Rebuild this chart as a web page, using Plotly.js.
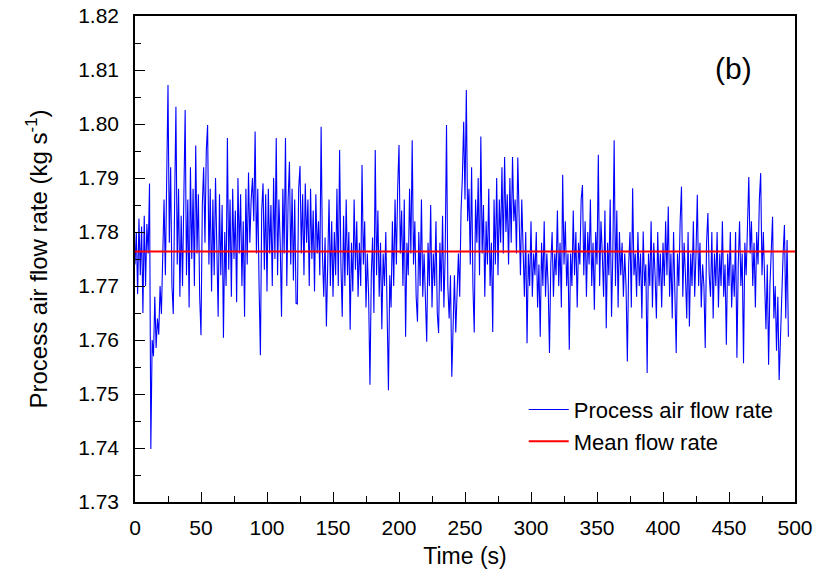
<!DOCTYPE html>
<html>
<head>
<meta charset="utf-8">
<script src="https://cdn.plot.ly/plotly-3.0.1.min.js"></script>
<style>html,body{margin:0;padding:0;background:#fff;}#chart{width:814px;height:580px;}</style>
</head>
<body>
<div id="chart"></div>
<script>
// Process air flow rate (kg/s), sampled every 1 s starting at t = 0 s
const timeStart = 0;
const timeStep = 1;
const flowRate = [
1.7740,1.7800,1.7685,1.7825,1.7720,1.7810,1.7650,1.7830,1.7700,1.7815,
1.7760,1.7890,1.7398,1.7600,1.7570,1.7680,1.7585,1.7640,1.7610,1.7700,
1.7648,1.7760,1.7860,1.7720,1.7950,1.8072,1.7780,1.7920,1.7700,1.7648,
1.7850,1.8032,1.7740,1.7880,1.7680,1.7830,1.7700,1.7900,1.8026,1.7720,
1.7860,1.7660,1.7920,1.7750,1.7880,1.7700,1.7960,1.7760,1.7870,1.7680,
1.7609,1.7850,1.7920,1.7780,1.7950,1.7998,1.7740,1.7880,1.7690,1.7860,
1.7720,1.7900,1.7790,1.7643,1.7870,1.7720,1.7850,1.7604,1.7800,1.7700,
1.7974,1.7730,1.7860,1.7680,1.7880,1.7750,1.7840,1.7670,1.7900,1.7760,
1.7870,1.7700,1.7820,1.7643,1.7880,1.7740,1.7910,1.7780,1.7860,1.7900,
1.7820,1.7986,1.7760,1.7880,1.7700,1.7572,1.7840,1.7890,1.7730,1.7870,
1.7690,1.7880,1.7760,1.7850,1.7700,1.7900,1.7750,1.7974,1.7720,1.7860,
1.7780,1.7643,1.7880,1.7760,1.7974,1.7700,1.7860,1.7930,1.7740,1.7880,
1.7710,1.7860,1.7668,1.7667,1.7880,1.7922,1.7760,1.7870,1.7720,1.7890,
1.7780,1.7860,1.7700,1.7880,1.7750,1.7840,1.7690,1.7870,1.7760,1.7820,
1.7720,1.7995,1.7760,1.7680,1.7790,1.7625,1.7740,1.7860,1.7700,1.7820,
1.7680,1.7800,1.7720,1.7880,1.7700,1.7952,1.7740,1.7643,1.7830,1.7700,
1.7860,1.7720,1.7800,1.7619,1.7780,1.7690,1.7860,1.7730,1.7820,1.7680,
1.7780,1.7700,1.7924,1.7740,1.7820,1.7660,1.7760,1.7680,1.7517,1.7720,
1.7790,1.7650,1.7952,1.7720,1.7840,1.7680,1.7780,1.7620,1.7760,1.7700,
1.7800,1.7650,1.7507,1.7720,1.7660,1.7820,1.7700,1.7860,1.7740,1.7880,
1.7961,1.7760,1.7840,1.7700,1.7860,1.7606,1.7780,1.7720,1.7880,1.7760,
1.7970,1.7740,1.7820,1.7680,1.7634,1.7800,1.7700,1.7860,1.7680,1.7760,
1.7690,1.7597,1.7780,1.7700,1.7850,1.7660,1.7760,1.7700,1.7820,1.7650,
1.7613,1.7780,1.7690,1.7830,1.7660,1.7760,1.7998,1.7700,1.7640,1.7720,
1.7532,1.7660,1.7720,1.7614,1.7700,1.7760,1.7680,1.7840,1.7900,1.8004,
1.7860,1.8063,1.7820,1.7880,1.7740,1.7920,1.7700,1.7614,1.7860,1.7780,
1.7900,1.7720,1.7977,1.7760,1.7850,1.7680,1.7820,1.7740,1.7880,1.7700,
1.7780,1.7615,1.7860,1.7740,1.7900,1.7720,1.7860,1.7780,1.7920,1.7760,
1.7939,1.7800,1.7870,1.7740,1.7900,1.7780,1.7939,1.7820,1.7860,1.7760,
1.7938,1.7800,1.7720,1.7860,1.7760,1.7680,1.7800,1.7594,1.7760,1.7700,
1.7820,1.7680,1.7760,1.7720,1.7800,1.7660,1.7740,1.7606,1.7780,1.7700,
1.7820,1.7680,1.7760,1.7700,1.7576,1.7740,1.7800,1.7680,1.7760,1.7720,
1.7840,1.7700,1.7780,1.7660,1.7906,1.7740,1.7820,1.7700,1.7760,1.7582,
1.7760,1.7700,1.7840,1.7720,1.7800,1.7660,1.7780,1.7740,1.7860,1.7887,
1.7720,1.7820,1.7680,1.7800,1.7740,1.7860,1.7700,1.7780,1.7656,1.7800,
1.7740,1.7943,1.7700,1.7820,1.7760,1.7680,1.7840,1.7622,1.7780,1.7720,
1.7860,1.7643,1.7760,1.7970,1.7700,1.7840,1.7660,1.7800,1.7720,1.7780,
1.7680,1.7760,1.7700,1.7560,1.7740,1.7800,1.7660,1.7881,1.7720,1.7760,
1.7680,1.7800,1.7700,1.7760,1.7640,1.7801,1.7700,1.7740,1.7539,1.7760,
1.7700,1.7820,1.7660,1.7780,1.7720,1.7640,1.7800,1.7700,1.7760,1.7660,
1.7780,1.7700,1.7820,1.7720,1.7847,1.7680,1.7760,1.7640,1.7800,1.7700,
1.7576,1.7760,1.7700,1.7820,1.7884,1.7680,1.7780,1.7720,1.7640,1.7800,
1.7625,1.7760,1.7700,1.7820,1.7680,1.7760,1.7869,1.7700,1.7780,1.7660,
1.7740,1.7700,1.7585,1.7780,1.7835,1.7720,1.7680,1.7800,1.7640,1.7760,
1.7700,1.7800,1.7660,1.7760,1.7700,1.7820,1.7680,1.7740,1.7591,1.7760,
1.7700,1.7800,1.7660,1.7740,1.7680,1.7800,1.7567,1.7740,1.7820,1.7700,
1.7760,1.7557,1.7780,1.7720,1.7840,1.7902,1.7760,1.7820,1.7700,1.7780,
1.7660,1.7800,1.7740,1.7860,1.7909,1.7720,1.7800,1.7680,1.7620,1.7740,
1.7554,1.7700,1.7760,1.7828,1.7640,1.7700,1.7580,1.7680,1.7526,1.7620,
1.7700,1.7760,1.7813,1.7640,1.7785,1.7606
];
const meanFlow = 1.7764;
const meanSpan = [0, 500];
const seriesNames = ["Process air flow rate", "Mean flow rate"];

const FONT = "Liberation Sans, Arial, sans-serif";

const traces = [
  {
    type: "scatter", mode: "lines",
    x0: timeStart, dx: timeStep, y: flowRate,
    name: seriesNames[0],
    line: {color: "#0000ff", width: 1.1}
  },
  {
    type: "scatter", mode: "lines",
    x: meanSpan, y: [meanFlow, meanFlow],
    name: seriesNames[1],
    line: {color: "#ff0000", width: 2}
  }
];

const layout = {
  width: 814, height: 580,
  margin: {l: 135, r: 19, t: 16, b: 78},
  paper_bgcolor: "#ffffff", plot_bgcolor: "#ffffff",
  font: {family: FONT, color: "#000000", size: 21},
  showlegend: true,
  legend: {
    x: 0.589, y: 0.233, xanchor: "left", yanchor: "top",
    bgcolor: "rgba(0,0,0,0)", borderwidth: 0,
    font: {family: FONT, size: 22, color: "#000"},
    itemwidth: 40, tracegroupgap: 0
  },
  xaxis: {
    range: [0, 500], dtick: 50, tick0: 0,
    showgrid: false, zeroline: false,
    showline: true, mirror: true, linecolor: "#000", linewidth: 1.5,
    ticks: "inside", ticklen: 10, tickwidth: 1.3, tickcolor: "#000",
    minor: {ticks: "inside", dtick: 25, ticklen: 6, tickwidth: 1.3, tickcolor: "#000", showgrid: false},
    tickfont: {family: FONT, size: 21, color: "#000"},
    ticklabelstandoff: 6,
    title: {text: "Time (s)", font: {family: FONT, size: 23, color: "#000"}, standoff: 10}
  },
  yaxis: {
    range: [1.73, 1.82], dtick: 0.01, tick0: 1.73, tickformat: ".2f",
    showgrid: false, zeroline: false,
    showline: true, mirror: true, linecolor: "#000", linewidth: 1.5,
    ticks: "inside", ticklen: 10, tickwidth: 1.3, tickcolor: "#000",
    minor: {ticks: "inside", dtick: 0.005, ticklen: 6, tickwidth: 1.3, tickcolor: "#000", showgrid: false},
    tickfont: {family: FONT, size: 21, color: "#000"},
    ticklabelstandoff: 10,
    title: {text: "Process air flow rate (kg s<sup>-1</sup>)", font: {family: FONT, size: 24, color: "#000"}, standoff: 24}
  },
  annotations: [
    {text: "(b)", xref: "paper", yref: "paper", x: 0.907, y: 0.892,
     xanchor: "center", yanchor: "middle", showarrow: false,
     font: {family: FONT, size: 30, color: "#000"}}
  ]
};

Plotly.newPlot("chart", traces, layout, {displayModeBar: false, responsive: false});
</script>
</body>
</html>
